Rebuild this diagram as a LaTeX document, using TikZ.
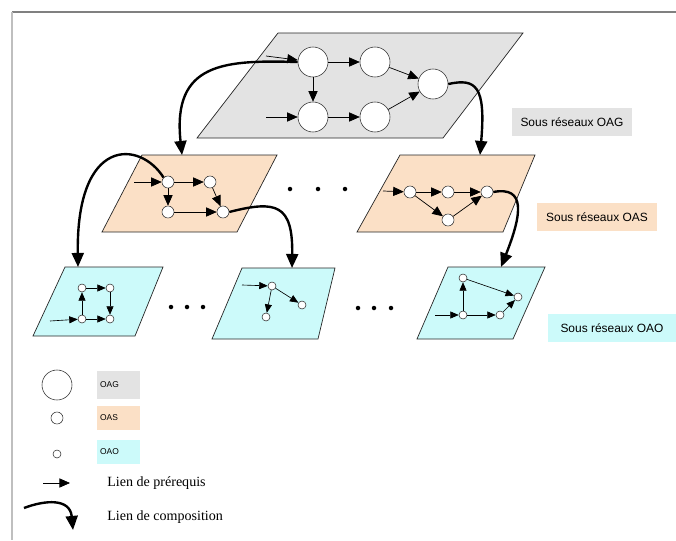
\documentclass[tikz,border=0pt]{standalone}
\usepackage{fontspec}
\setmainfont{Liberation Serif}
\setsansfont{Liberation Sans}
\usetikzlibrary{arrows.meta}
\definecolor{oaggray}{RGB}{227,227,227}
\definecolor{oaspeach}{RGB}{251,224,198}
\definecolor{oaocyan}{RGB}{204,250,250}
\tikzset{
	plane/.style={draw=black!85, line width=0.5pt},
	oagnode/.style={circle, draw=black!80, fill=white, inner sep=0pt, minimum size=0.75cm},
	oasnode/.style={circle, draw=black!80, fill=white, inner sep=0pt, minimum size=0.3cm},
	oaonode/.style={circle, draw=black!80, fill=white, inner sep=0pt, minimum size=0.2cm},
	prq/.style={-{Triangle[length=7.5pt, width=6.5pt]}, line width=0.5pt},
	prqs/.style={-{Triangle[length=6pt, width=5pt]}, line width=0.45pt},
	comp/.style={-{Triangle[length=10pt, width=8.5pt]}, line width=1.7pt},
	lbl/.style={font=\sffamily\fontsize{8.5}{9}\selectfont, inner sep=0pt},
	keybox/.style={font=\sffamily\fontsize{6}{7}\selectfont, anchor=west, inner ysep=0pt, inner xsep=0.07cm, text width=0.94cm, align=left},
	legtxt/.style={font=\fontsize{10}{11}\selectfont, anchor=west, inner sep=0pt},
}
\begin{document}
\begin{tikzpicture}[x=0.025cm, y=-0.025cm]
	\useasboundingbox (0,0) rectangle (676,540);
	\draw[gray, line width=1.3pt] (12,12) -- (676,12);
	\draw[black!25, line width=2pt] (12,12) -- (12,540);

	\filldraw[plane, fill=oaggray] (278,33) -- (523,33) -- (443,138) -- (197,138) -- cycle;
	\filldraw[plane, fill=oaspeach] (142,155) -- (277,155) -- (237,232) -- (102,232) -- cycle;
	\filldraw[plane, fill=oaspeach] (400,155) -- (535,155) -- (503,232) -- (357,232) -- cycle;
	\filldraw[plane, fill=oaocyan] (65,267) -- (163,267) -- (135,336) -- (33,336) -- cycle;
	\filldraw[plane, fill=oaocyan] (242,268) -- (335,268) -- (318,339) -- (212,339) -- cycle;
	\filldraw[plane, fill=oaocyan] (448,267) -- (545,267) -- (513,339) -- (417,339) -- cycle;

	\node[oagnode] (c1) at (313,62) {};
	\node[oagnode] (c2) at (375,62) {};
	\node[oagnode] (c3) at (433,84) {};
	\node[oagnode] (c4) at (313,117) {};
	\node[oagnode] (c5) at (375,117) {};
	\coordinate (i1) at (266,56);
	\coordinate (i2) at (266,117);
	\draw[prq] (i1) -- (c1);
	\draw[prq] (i2) -- (c4);
	\draw[prq] (c1) -- (c2);
	\draw[prq] (c1) -- (c4);
	\draw[prq] (c4) -- (c5);
	\draw[prq] (c2) -- (c3);
	\draw[prq] (c5) -- (c3);

	\node[oasnode] (a1) at (168,182) {};
	\node[oasnode] (a2) at (210,182) {};
	\node[oasnode] (a3) at (168,212) {};
	\node[oasnode] (a4) at (223,212) {};
	\coordinate (i3) at (134,182);
	\draw[prq] (i3) -- (a1);
	\draw[prq] (a1) -- (a2);
	\draw[prq] (a1) -- (a3);
	\draw[prq] (a2) -- (a4);
	\draw[prq] (a3) -- (a4);

	\node[oasnode] (b1) at (410,192) {};
	\node[oasnode] (b2) at (448,192) {};
	\node[oasnode] (b3) at (487,192) {};
	\node[oasnode] (b4) at (448,220) {};
	\coordinate (i4) at (383,191);
	\draw[prq] (i4) -- (b1);
	\draw[prq] (b1) -- (b2);
	\draw[prq] (b2) -- (b3);
	\draw[prq] (b1) -- (b4);
	\draw[prq] (b4) -- (b3);

	\node[oaonode] (n1) at (82,288) {};
	\node[oaonode] (n2) at (110,288) {};
	\node[oaonode] (n3) at (110,319) {};
	\node[oaonode] (n4) at (82,319) {};
	\coordinate (i5) at (50,321);
	\draw[prqs] (i5) -- (n4);
	\draw[prqs] (n4) -- (n1);
	\draw[prqs] (n1) -- (n2);
	\draw[prqs] (n2) -- (n3);
	\draw[prqs] (n4) -- (n3);

	\node[oaonode] (m1) at (272,286) {};
	\node[oaonode] (m2) at (302,305) {};
	\node[oaonode] (m3) at (266,317) {};
	\coordinate (i6) at (242,285);
	\draw[prqs] (i6) -- (m1);
	\draw[prqs] (m1) -- (m2);
	\draw[prqs] (m1) -- (m3);

	\node[oaonode] (r1) at (463,278) {};
	\node[oaonode] (r2) at (518,297) {};
	\node[oaonode] (r3) at (463,315) {};
	\node[oaonode] (r4) at (500,315) {};
	\coordinate (i7) at (435,315);
	\draw[prqs] (i7) -- (r3);
	\draw[prqs] (r3) -- (r1);
	\draw[prqs] (r3) -- (r4);
	\draw[prqs] (r4) -- (r2);
	\draw[prqs] (r1) -- (r2);

	\foreach \x in {290,318,345} \fill (\x,189) circle [radius=1.6pt];
	\foreach \x in {171,187,203} \fill (\x,307) circle [radius=1.6pt];
	\foreach \x in {358,374,391} \fill (\x,308) circle [radius=1.6pt];

	\coordinate (tA) at (182,155);
	\coordinate (tB) at (480,155);
	\coordinate (tC) at (78,267);
	\coordinate (tD) at (292,268);
	\coordinate (tE) at (501,267);
	\draw[comp] (c1.west) .. controls (225,60) and (172,62) .. (tA);
	\draw[comp] (c3.east) .. controls (476,78) and (486,86) .. (tB);
	\draw[comp] (a1.north west) .. controls (140,140) and (76,136) .. (tC);
	\draw[comp] (a4.east) .. controls (276,200) and (293,204) .. (tD);
	\draw[comp] (b3.east) .. controls (526,186) and (522,214) .. (tE);

	\node[lbl, fill=oaggray, minimum width=2.98cm, minimum height=0.72cm] (lg) at (572,122) {Sous réseaux OAG};
	\node[lbl, fill=oaspeach, minimum width=3.02cm, minimum height=0.72cm] (ls) at (597,217) {Sous réseaux OAS};
	\node[lbl, fill=oaocyan, minimum width=3.22cm, minimum height=0.68cm] (lo) at (612,328) {Sous réseaux OAO};

	\node[oagnode] (kA) at (57,385) {};
	\node[oasnode] (kB) at (57,418) {};
	\node[oaonode] (kC) at (57,454) {};
	\node[keybox, fill=oaggray, minimum height=0.72cm] (kg) at (97,385) {OAG};
	\node[keybox, fill=oaspeach, minimum height=0.62cm] (ks) at (97,418) {OAS};
	\node[keybox, fill=oaocyan, minimum height=0.58cm] (ko) at (97,452) {OAO};
	\coordinate (p1) at (43,483);
	\coordinate (p2) at (70,483);
	\draw[prq] (p1) -- (p2);
	\node[legtxt] (kp) at (107,483) {Lien de prérequis};
	\coordinate (q1) at (24,508);
	\coordinate (q2) at (73,530);
	\draw[comp] (q1) .. controls (45,500) and (70,498) .. (q2);
	\node[legtxt] (kq) at (107,517) {Lien de composition};
\end{tikzpicture}
\end{document}
